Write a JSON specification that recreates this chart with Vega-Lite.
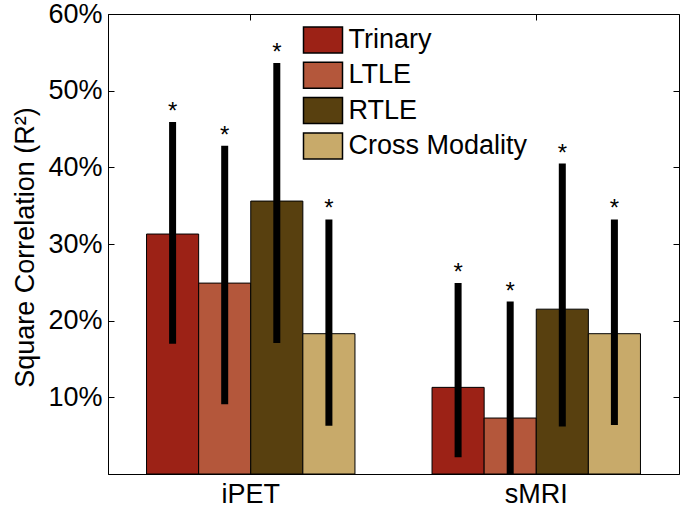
{
  "$schema": "https://vega.github.io/schema/vega-lite/v6.json",
  "width": 571,
  "height": 460,
  "autosize": {"type": "none"},
  "padding": {"left": 108, "top": 14, "right": 7, "bottom": 36},
  "config": {
    "font": "Liberation Sans",
    "view": {"stroke": "black", "strokeWidth": 1},
    "axis": {"domainColor": "black", "tickColor": "black", "labelColor": "black", "titleColor": "black", "grid": false}
  },
  "data": {
    "values": [
      {"group": "iPET", "series": "Trinary", "value": 31.3, "lo": 17.0, "hi": 45.9},
      {"group": "iPET", "series": "LTLE", "value": 24.9, "lo": 9.1, "hi": 42.8},
      {"group": "iPET", "series": "RTLE", "value": 35.6, "lo": 17.1, "hi": 53.6},
      {"group": "iPET", "series": "Cross Modality", "value": 18.3, "lo": 6.3, "hi": 33.2},
      {"group": "sMRI", "series": "Trinary", "value": 11.3, "lo": 2.2, "hi": 24.9},
      {"group": "sMRI", "series": "LTLE", "value": 7.3, "lo": 0.0, "hi": 22.5},
      {"group": "sMRI", "series": "RTLE", "value": 21.5, "lo": 6.2, "hi": 40.5},
      {"group": "sMRI", "series": "Cross Modality", "value": 18.3, "lo": 6.4, "hi": 33.2}
    ]
  },
  "layer": [
    {
      "mark": {"type": "bar", "stroke": "black", "strokeWidth": 1},
      "encoding": {
        "x": {"field": "group", "type": "nominal", "scale": {"paddingInner": 0.27, "paddingOuter": 0.135},
              "axis": {"title": null, "labelAngle": 0, "labelFontSize": 27, "tickSize": -6, "labelPadding": 13, "domain": true}},
        "xOffset": {"field": "series", "type": "nominal", "sort": ["Trinary", "LTLE", "RTLE", "Cross Modality"], "scale": {"paddingInner": 0, "paddingOuter": 0}},
        "y": {"field": "value", "type": "quantitative", "scale": {"domain": [0, 60], "nice": false},
              "axis": {"values": [10, 20, 30, 40, 50, 60], "labelExpr": "datum.value + '%'", "labelFontSize": 27, "tickSize": -6, "labelPadding": 12,
                       "title": "Square Correlation (R²)", "titleFontSize": 27, "titleFontWeight": "normal", "titleX": -75, "titleY": 233, "titleAngle": -90, "titleBaseline": "alphabetic", "titleAlign": "center"}},
        "color": {"field": "series", "type": "nominal",
                  "scale": {"domain": ["Trinary", "LTLE", "RTLE", "Cross Modality"], "range": ["#9c2216", "#b4573b", "#58400f", "#c8aa6a"]},
                  "legend": {"title": null, "orient": "none", "legendX": 201, "legendY": 12, "padding": 0,
                             "symbolType": "M-1.5,-1H1.5V1H-1.5Z", "symbolSize": 676, "symbolStrokeColor": "black", "symbolStrokeWidth": 1.5, "symbolOpacity": 1,
                             "labelFontSize": 27, "labelColor": "black", "labelOffset": 11.5, "rowPadding": 3.3, "labelLimit": 400}}
      }
    },
    {
      "mark": {"type": "rule", "strokeWidth": 7, "color": "black", "strokeCap": "butt"},
      "encoding": {
        "x": {"field": "group", "type": "nominal", "axis": {"orient": "top", "labels": false, "title": null, "tickSize": -6, "domain": false}},
        "xOffset": {"field": "series", "type": "nominal", "sort": ["Trinary", "LTLE", "RTLE", "Cross Modality"]},
        "y": {"field": "lo", "type": "quantitative", "axis": {"orient": "right", "values": [10, 20, 30, 40, 50, 60], "labels": false, "title": null, "tickSize": -6, "domain": false}},
        "y2": {"field": "hi"}
      }
    },
    {
      "mark": {"type": "text", "text": "*", "fontSize": 24, "baseline": "alphabetic", "dy": -3, "color": "black"},
      "encoding": {
        "x": {"field": "group", "type": "nominal", "axis": null},
        "xOffset": {"field": "series", "type": "nominal", "sort": ["Trinary", "LTLE", "RTLE", "Cross Modality"]},
        "y": {"field": "hi", "type": "quantitative", "axis": null}
      }
    }
  ],
  "resolve": {"axis": {"x": "independent", "y": "independent"}}
}
